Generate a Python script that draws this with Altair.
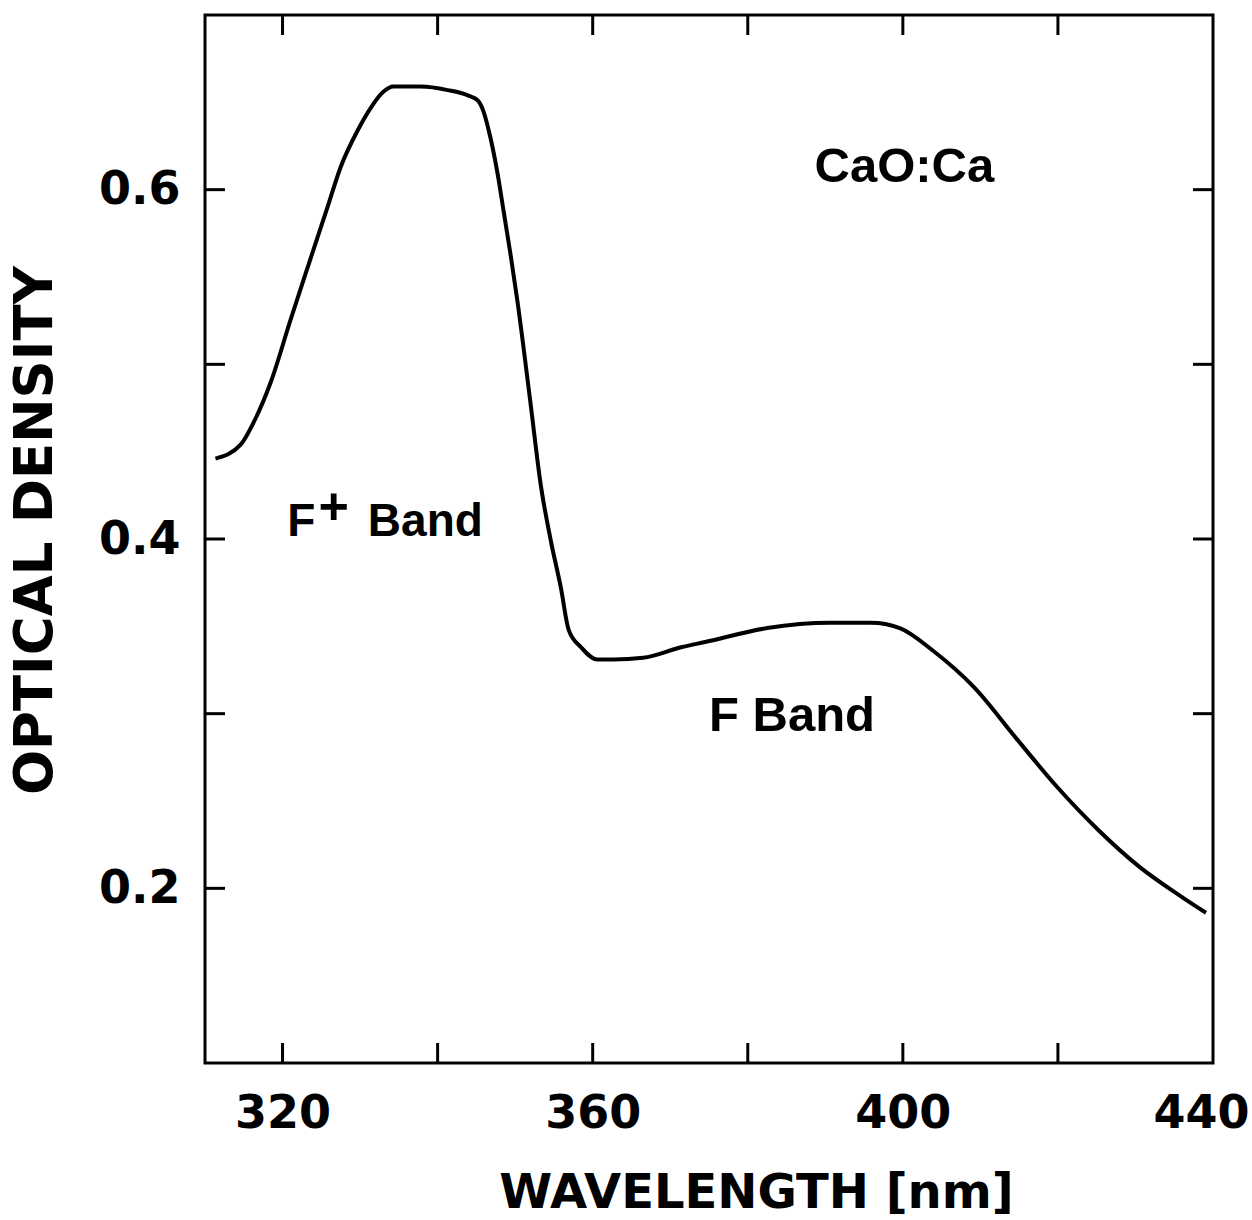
import altair as alt
import pandas as pd

# ---- data ----
wavelength = [311.35, 314.6, 316.3, 318.5, 321.0, 323.2, 325.8, 327.5, 329.7, 331.4,
              333.0, 334.3, 337.8, 341.3, 343.9, 345.2, 345.9, 346.8, 347.7, 348.5,
              349.4, 350.3, 352.0, 353.3, 354.6, 355.9, 356.9, 358.5, 360.6, 362.7,
              366.5, 371.4, 374.5, 382.5, 390.6, 395.9, 399.6, 403.9, 409.2, 414.6,
              419.9, 425.3, 430.6, 436.0, 439.1]
optical_density = [0.446, 0.454, 0.467, 0.490, 0.525, 0.555, 0.590, 0.613, 0.634, 0.647,
                   0.656, 0.659, 0.659, 0.657, 0.654, 0.651, 0.645, 0.630, 0.610, 0.588,
                   0.563, 0.536, 0.477, 0.431, 0.399, 0.372, 0.348, 0.338, 0.331, 0.331,
                   0.332, 0.338, 0.341, 0.349, 0.352, 0.352, 0.349, 0.336, 0.315, 0.286,
                   0.258, 0.233, 0.212, 0.195, 0.186]

x_ticks = [320, 340, 360, 380, 400, 420]
y_ticks = [0.2, 0.3, 0.4, 0.5, 0.6]
x_labels = [320, 360, 400, 440]
y_labels = [0.2, 0.4, 0.6]

ann_text = ["CaO:Ca", "F Band", "F", "Band"]
ann_x = [400.2, 385.7, 320.6, 331.0]
ann_y = [0.6046, 0.2903, 0.4017, 0.4017]
ann_align = ["center", "center", "left", "left"]

plus_text = ["+"]
plus_x = [326.6]
plus_y = [0.4177]

# ---- layout / style ----
W, H = 1008, 1048
TICK = 20
FONT_AX = "DejaVu Sans"
FONT_ANN = "Liberation Sans"

xscale = alt.Scale(domain=[310, 440], nice=False, zero=False)
yscale = alt.Scale(domain=[0.1, 0.7], nice=False, zero=False)

xaxis = alt.Axis(values=x_labels, format="d", title="WAVELENGTH [nm]",
                 labelPadding=28, labelFlushOffset=36,
                 titleX=551, titleY=130,
                 titleBaseline="middle", titleAlign="center",
                 titleFontSize=48, labelFontSize=46)
yaxis = alt.Axis(values=y_labels, format=".1f", title="OPTICAL DENSITY",
                 labelPadding=25, titleX=-170, titleY=515, titleAngle=-90,
                 titleBaseline="middle", titleAlign="center",
                 titleFontSize=53, labelFontSize=46)


def X(field):
    return alt.X(field, scale=xscale, axis=xaxis, title="WAVELENGTH [nm]")


def Y(field):
    return alt.Y(field, scale=yscale, axis=yaxis, title="OPTICAL DENSITY")


curve = pd.DataFrame({"wl": wavelength, "od": optical_density})

line = alt.Chart(curve).mark_line(
    color="black", strokeWidth=4, interpolate="monotone"
).encode(x=X("wl:Q"), y=Y("od:Q"))

xt = pd.DataFrame({"t": x_ticks})
yt = pd.DataFrame({"t": y_ticks})

tick_style = dict(color="black", strokeWidth=3)

bottom_ticks = alt.Chart(xt).mark_rule(**tick_style).encode(
    x=X("t:Q"), y=alt.value(H), y2=alt.value(H - TICK))
top_ticks = alt.Chart(xt).mark_rule(**tick_style).encode(
    x=X("t:Q"), y=alt.value(0), y2=alt.value(TICK))
left_ticks = alt.Chart(yt).mark_rule(**tick_style).encode(
    y=Y("t:Q"), x=alt.value(0), x2=alt.value(TICK))
right_ticks = alt.Chart(yt).mark_rule(**tick_style).encode(
    y=Y("t:Q"), x=alt.value(W), x2=alt.value(W - TICK))

ann = pd.DataFrame({"text": ann_text, "x": ann_x, "y": ann_y, "align": ann_align})
ann_center = alt.Chart(ann[ann["align"] == "center"]).mark_text(
    font=FONT_ANN, fontWeight="bold", fontSize=49, align="center", baseline="alphabetic",
    color="black"
).encode(x=X("x:Q"), y=Y("y:Q"), text="text:N")
ann_left = alt.Chart(ann[ann["align"] == "left"]).mark_text(
    font=FONT_ANN, fontWeight="bold", fontSize=46, align="left", baseline="alphabetic",
    color="black"
).encode(x=X("x:Q"), y=Y("y:Q"), text="text:N")

plus = pd.DataFrame({"text": plus_text, "x": plus_x, "y": plus_y})
plus_mark = alt.Chart(plus).mark_text(
    font=FONT_ANN, fontWeight="bold", fontSize=52, align="center", baseline="middle",
    color="black"
).encode(x=X("x:Q"), y=Y("y:Q"), text="text:N")

chart = alt.layer(
    line, bottom_ticks, top_ticks, left_ticks, right_ticks, ann_center, ann_left, plus_mark
).properties(
    width=W, height=H,
    autosize=alt.AutoSizeParams(type="none"),
    padding={"left": 205, "top": 15, "right": 39, "bottom": 157},
    background="white",
).configure_view(
    stroke="black", strokeWidth=3
).configure_axis(
    domain=False, ticks=False, grid=False,
    labelFont=FONT_AX, labelFontWeight="bold", labelColor="black",
    titleFont=FONT_AX, titleFontWeight="bold", titleColor="black",
)

chart.save("out.html", embed_options={"renderer": "svg", "actions": False})
